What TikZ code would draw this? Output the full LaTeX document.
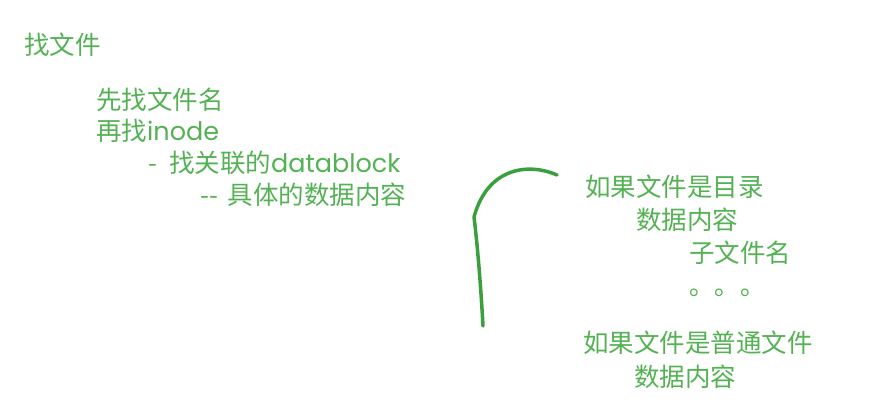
\documentclass[tikz,border=0pt]{standalone}
\usepackage{fontspec}
\setmainfont{Noto Sans CJK SC}
\newfontfamily\cjktc{Noto Sans CJK TC}
\newfontfamily\hand{Poppins}
\definecolor{notegreen}{RGB}{84,178,84}
\definecolor{pengreen}{RGB}{58,160,62}
\begin{document}
\begin{tikzpicture}
        [x=1pt, y=-1pt,
        note/.style={anchor=west, inner sep=0pt, text=notegreen, font=\fontsize{25.5}{25.5}\selectfont},
        pen/.style={draw=pengreen, line width=3.5pt, line cap=round, line join=round}]
        \useasboundingbox (0,0) rectangle (887,415);
        \node[note] (find) at (24,45) {找文件};
        \node[note] (name) at (96,100) {先找文件名};
        \node[note] (inode) at (96,131) {再找{\hand inode}};
        \node[note] (block) at (148,163) {-\hspace{12pt}找关联的{\hand datablock}};
        \node[note] (data) at (200,195) {-{}-\hspace{10pt}具体的数据内容};
        
        \node[note] (dir) at (585,187) {如果文件是目录};
        \node[note] (dirdata) at (636,220) {数据内容};
        \node[note] (sub) at (689,253) {子文件名};
        \node[note, font=\cjktc\fontsize{25.5}{25.5}\selectfont] (dots) at (681,296) {。。。};
        \node[note] (reg) at (583,343) {如果文件是普通文件};
        \node[note] (regdata) at (634,377) {数据内容};
        
        \draw[pen] (557,175) .. controls (530,163) and (488,166) .. (474,217)
            .. controls (478,250) and (481,290) .. (483,326);
    \end{tikzpicture}
\end{document}
